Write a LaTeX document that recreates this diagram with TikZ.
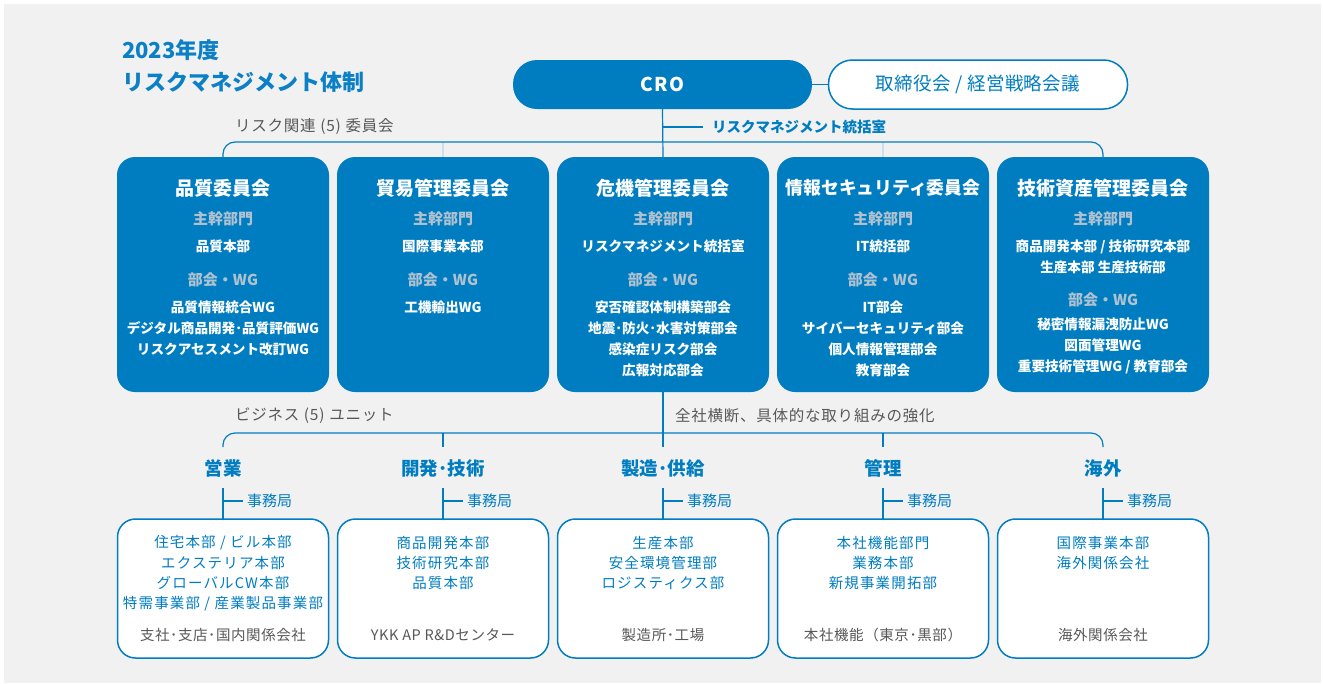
\documentclass[tikz,border=0pt]{standalone}
\usepackage{fontspec}
\setmainfont{Noto Sans CJK JP}
\usetikzlibrary{calc}
\definecolor{blu}{RGB}{0,125,193}
\definecolor{tblu}{RGB}{12,128,198}
\definecolor{bgc}{RGB}{241,241,241}
\definecolor{lbl}{RGB}{176,194,208}
\definecolor{gry}{RGB}{88,88,88}
\definecolor{faint}{RGB}{205,222,236}
\newcommand{\myfs}[2]{\fontsize{#1}{#2}\selectfont}
\tikzset{
  every node/.style={inner sep=0pt, outer sep=0pt},
  conn/.style={draw=blu, line width=1.2pt},
  faintline/.style={draw=faint, line width=1.2pt},
  cbox/.style={fill=blu, rounded corners=18pt, minimum width=212pt, minimum height=235pt},
  bbox/.style={draw=blu, line width=1.5pt, fill=white, rounded corners=18pt, minimum width=211pt, minimum height=139pt},
  pill/.style={rounded corners=24pt, minimum width=299pt, minimum height=49pt},
  ctitle/.style={text=white, font=\bfseries\myfs{19}{22}},
  clab/.style={text=lbl, font=\bfseries\myfs{15}{18}},
  cbody/.style={text=white, font=\bfseries\myfs{13.6}{21}, align=center},
  btxt/.style={text=blu, font=\myfs{14.5}{20.3}\addfontfeature{LetterSpace=8}, align=center},
  bfoot/.style={text=gry, font=\myfs{14.5}{18}\addfontfeature{LetterSpace=4}},
  unit/.style={text=blu, font=\bfseries\myfs{18.5}{22}},
  jim/.style={text=blu, font=\myfs{15}{18}, anchor=west},
  glab/.style={text=gry, font=\myfs{15.5}{18}\addfontfeature{LetterSpace=5}, anchor=west},
  ttl/.style={text=tblu, font=\bfseries\myfs{22}{26}, anchor=west}
}
\begin{document}
\begin{tikzpicture}[x=1pt,y=-1pt]
\fill[white] (0,0) rectangle (1323,683);
\useasboundingbox (0,0) rectangle (1323,683);
\fill[bgc] (4,4) rectangle (1321,683);

% title
\node[ttl] (t1) at (122,50) {2023年度};
\node[ttl] (t2) at (122,82) {リスクマネジメント体制};

% CRO and board
\node[pill, fill=blu, text=white, font=\bfseries\myfs{19}{22}\addfontfeature{LetterSpace=6}] (cro) at (662.5,84.5) {CRO};
\node[pill, draw=blu, line width=1.5pt, fill=white, text=blu, font=\myfs{18.5}{22}\addfontfeature{LetterSpace=2}] (board) at (978,84.5) {取締役会 / 経営戦略会議};
\draw[conn] (cro.east) -- (board.west);

% committees
\foreach \i/\x in {1/223,2/443,3/663,4/883,5/1103}{
  \node[cbox] (c\i) at (\x,274.5) {};
}
\coordinate (ht) at (663,142);
\draw[faintline] (c2.north) -- (c2.north|-ht);
\draw[faintline] (c4.north) -- (c4.north|-ht);
\draw[conn, rounded corners=12pt] (c1.north) |- (ht) -| (c5.north);
\draw[conn] (cro.south) -- (c3.north);

\node[glab] (rlab) at (235,127) {リスク関連\hspace{0.3em}(5)\hspace{0.3em}委員会};
\node[text=blu, font=\bfseries\myfs{14.5}{18}, anchor=west] (rm) at (712,127) {リスクマネジメント統括室};
\draw[conn] (rm.west -| cro.south) -- ([xshift=-9pt]rm.west);

% committee contents
\node[ctitle] (c1t) at (223,188) {品質委員会};
\node[ctitle] (c2t) at (443,188) {貿易管理委員会};
\node[ctitle] (c3t) at (663,188) {危機管理委員会};
\node[ctitle, font=\bfseries\myfs{17.8}{22}] (c4t) at (883,188) {情報セキュリティ委員会};
\node[ctitle] (c5t) at (1103,188) {技術資産管理委員会};

\foreach \i/\x in {1/223,2/443,3/663,4/883,5/1103}{
  \node[clab] (c\i a) at (\x,219) {主幹部門};
}
\foreach \i/\x in {1/223,2/443,3/663,4/883}{
  \node[clab] (c\i w) at (\x,280) {部会・WG};
}
\node[clab] (c5w) at (1103,300) {部会・WG};

\node[cbody] (c1b) at (223,246) {品質本部};
\node[cbody] (c2b) at (443,246) {国際事業本部};
\node[cbody] (c3b) at (663,246) {リスクマネジメント統括室};
\node[cbody] (c4b) at (883,246) {IT統括部};
\node[cbody] (c5b) at (1103,256.5) {商品開発本部 / 技術研究本部\\生産本部 生産技術部};

\node[cbody] (c1l) at (223,328) {品質情報統合WG\\デジタル商品開発･品質評価WG\\リスクアセスメント改訂WG};
\node[cbody] (c2l) at (443,307) {工機輸出WG};
\node[cbody] (c3l) at (663,338.5) {安否確認体制構築部会\\地震･防火･水害対策部会\\感染症リスク部会\\広報対応部会};
\node[cbody] (c4l) at (883,338.5) {IT部会\\サイバーセキュリティ部会\\個人情報管理部会\\教育部会};
\node[cbody] (c5l) at (1103,345.5) {秘密情報漏洩防止WG\\図面管理WG\\重要技術管理WG / 教育部会};

% business units
\node[glab] (blab) at (235,416) {ビジネス\hspace{0.3em}(5)\hspace{0.3em}ユニット};
\node[glab] (zlab) at (675,416) {全社横断、具体的な取り組みの強化};

\foreach \i/\x in {1/223,2/443,3/663,4/883,5/1103}{
  \coordinate (v\i) at (\x,447);
  \coordinate (s\i) at (\x,488);
  \node[bbox] (b\i) at (\x,588.5) {};
  \node[jim] (j\i) at (\x+24,501) {事務局};
  \draw[conn] (s\i) -- (b\i.north);
  \draw[conn] (j\i.west -| b\i.north) -- ([xshift=-4pt]j\i.west);
}
\coordinate (hb) at (663,433);
\draw[conn, rounded corners=12pt] (v1) |- (hb) -| (v5);
\draw[conn] (v2) -- (v2|-hb);
\draw[conn] (v4) -- (v4|-hb);
\draw[conn] (c3.south) -- (v3);

\node[unit] (u1) at (223,468) {営業};
\node[unit] (u2) at (443,468) {開発･技術};
\node[unit] (u3) at (663,468) {製造･供給};
\node[unit] (u4) at (883,468) {管理};
\node[unit] (u5) at (1103,468) {海外};

\node[btxt] (b1t) at (223,573.5) {住宅本部 / ビル本部\\エクステリア本部\\グローバルCW本部\\特需事業部 / 産業製品事業部};
\node[btxt] (b2t) at (443,563) {商品開発本部\\技術研究本部\\品質本部};
\node[btxt] (b3t) at (663,563) {生産本部\\安全環境管理部\\ロジスティクス部};
\node[btxt] (b4t) at (883,563) {本社機能部門\\業務本部\\新規事業開拓部};
\node[btxt] (b5t) at (1103,553) {国際事業本部\\海外関係会社};

\node[bfoot] (b1f) at (223,635) {支社･支店･国内関係会社};
\node[bfoot] (b2f) at (443,635) {YKK AP R\&Dセンター};
\node[bfoot] (b3f) at (663,635) {製造所･工場};
\node[bfoot] (b4f) at (883,635) {本社機能（東京･黒部）};
\node[bfoot] (b5f) at (1103,635) {海外関係会社};
\end{tikzpicture}
\end{document}
